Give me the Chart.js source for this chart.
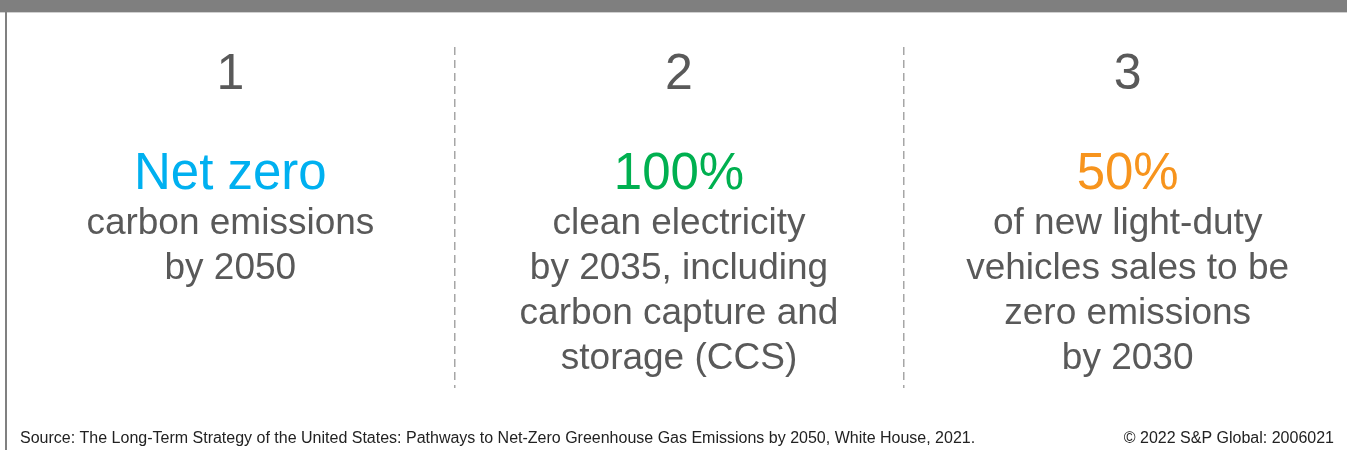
<!DOCTYPE html>
<html>
<head>
<meta charset="utf-8">
<script src="https://cdn.jsdelivr.net/npm/chart.js@4/dist/chart.umd.min.js"></script>
<style>
  html, body { margin: 0; padding: 0; overflow: hidden; background: #fff; }
  canvas { display: block; }
</style>
</head>
<body>
<canvas id="grafico" width="1352" height="450"></canvas>
<script>
const numeros = ['1', '2', '3'];
const destaques = ['Net zero', '100%', '50%'];
const coresDestaque = ['#00b0f0', '#00b050', '#f7941d'];
const descricoes = [
  ['carbon emissions', 'by 2050'],
  ['clean electricity', 'by 2035, including', 'carbon capture and', 'storage (CCS)'],
  ['of new light-duty', 'vehicles sales to be', 'zero emissions', 'by 2030']
];
const fonte = 'Source: The Long-Term Strategy of the United States: Pathways to Net-Zero Greenhouse Gas Emissions by 2050, White House, 2021.';
const copyright = '\u00a9 2022 S&P Global: 2006021';

const FAMILIA = '"Liberation Sans", Arial, sans-serif';
const CINZA = '#595959';

const moldura = {
  id: 'moldura',
  beforeDraw(chart) {
    const c = chart.ctx;
    c.save();
    c.fillStyle = '#fff';
    c.fillRect(0, 0, chart.width, chart.height);
    // barra do titulo
    c.fillStyle = '#7f7f7f';
    c.fillRect(0, 0, chart.width, 12);
    c.fillStyle = '#d0d0d0';
    c.fillRect(0, 12, chart.width, 1);
    // borda esquerda
    c.fillStyle = '#808080';
    c.fillRect(5, 12, 2, chart.height - 12);
    c.restore();
  },
  afterDraw(chart) {
    const c = chart.ctx;
    const x = chart.scales.x;
    c.save();
    c.textAlign = 'center';
    c.textBaseline = 'alphabetic';
    numeros.forEach((n, i) => {
      const px = x.getPixelForValue(i);
      c.fillStyle = CINZA;
      c.font = '50px ' + FAMILIA;
      c.fillText(n, px, 89);
      c.fillStyle = coresDestaque[i];
      c.font = '51px ' + FAMILIA;
      c.fillText(destaques[i], px, 189);
      c.fillStyle = CINZA;
      c.font = '37px ' + FAMILIA;
      descricoes[i].forEach((linha, j) => {
        c.fillText(linha, px, 234 + j * 45);
      });
    });
    c.font = '16px ' + FAMILIA;
    c.fillStyle = '#222';
    c.textAlign = 'left';
    c.fillText(fonte, 20, 443);
    c.textAlign = 'right';
    c.fillText(copyright, 1334, 443);
    c.restore();
  }
};

new Chart(document.getElementById('grafico'), {
  type: 'bar',
  data: {
    labels: numeros,
    datasets: []
  },
  options: {
    responsive: false,
    animation: false,
    layout: { padding: { top: 47, bottom: 62, left: 6, right: 0 } },
    plugins: {
      legend: { display: false },
      tooltip: { enabled: false }
    },
    scales: {
      x: {
        offset: true,
        ticks: { display: false },
        grid: {
          offset: true,
          drawTicks: false,
          tickLength: 0,
          lineWidth: 1.5,
          color: (ctx) => (ctx.index === 1 || ctx.index === 2) ? '#a6a6a6' : 'transparent'
        },
        border: { display: false, dash: [8, 5] }
      },
      y: { display: false, min: 0, max: 1 }
    }
  },
  plugins: [moldura]
});
</script>
</body>
</html>
